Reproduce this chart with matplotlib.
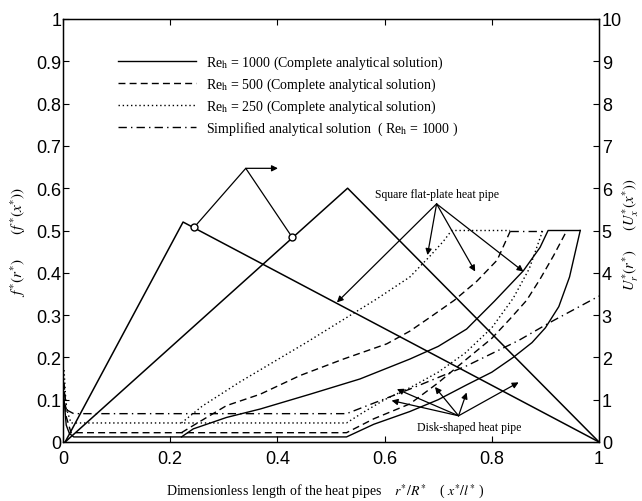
import numpy as np
import matplotlib.pyplot as plt

plt.rcParams['font.family'] = 'Liberation Sans'
plt.rcParams['mathtext.fontset'] = 'stix'

serif = 'Liberation Serif'

# f*(r*) on the left axis, U*/10 once the curves climb (right axis = x10)
# disk-shaped heat pipe branch (knee at 0.529)
disk_x_1000 = [0.002, 0.006, 0.012, 0.02, 0.529, 0.58, 0.647, 0.70, 0.753, 0.80, 0.84, 0.875, 0.90, 0.925, 0.945, 0.965]
disk_f_1000 = [0.10, 0.04, 0.02, 0.012, 0.012, 0.042, 0.072, 0.10, 0.135, 0.165, 0.20, 0.235, 0.27, 0.32, 0.39, 0.5]
disk_x_500 = [0.002, 0.006, 0.015, 0.529, 0.58, 0.647, 0.70, 0.753, 0.80, 0.834, 0.865, 0.89, 0.915, 0.94]
disk_f_500 = [0.14, 0.06, 0.022, 0.022, 0.055, 0.09, 0.14, 0.196, 0.245, 0.291, 0.335, 0.385, 0.44, 0.5]
disk_x_250 = [0.002, 0.006, 0.015, 0.529, 0.56, 0.60, 0.65, 0.70, 0.75, 0.80, 0.84, 0.87, 0.895]
disk_f_250 = [0.17, 0.08, 0.045, 0.045, 0.07, 0.10, 0.13, 0.165, 0.21, 0.27, 0.34, 0.41, 0.5]

# square flat-plate heat pipe branch (knee at 0.221)
sq_x_1000 = [0.221, 0.243, 0.305, 0.368, 0.461, 0.554, 0.647, 0.70, 0.753, 0.805, 0.859, 0.89, 0.905, 0.965]
sq_f_1000 = [0.012, 0.031, 0.058, 0.078, 0.113, 0.149, 0.196, 0.226, 0.267, 0.333, 0.405, 0.46, 0.5, 0.5]
sq_x_500 = [0.221, 0.243, 0.305, 0.368, 0.442, 0.523, 0.604, 0.647, 0.685, 0.73, 0.772, 0.81, 0.835]
sq_f_500 = [0.022, 0.039, 0.086, 0.113, 0.157, 0.196, 0.232, 0.262, 0.295, 0.335, 0.38, 0.43, 0.5]
sq_x_250 = [0.221, 0.26, 0.33, 0.455, 0.585, 0.647, 0.685, 0.71, 0.725, 0.834]
sq_f_250 = [0.045, 0.085, 0.142, 0.236, 0.338, 0.39, 0.44, 0.475, 0.5, 0.5]

# simplified solution, Re_h = 1000
simp_x = [0.002, 0.008, 0.02, 0.529, 0.647, 0.753, 0.85, 0.909, 1.0]
simp_f = [0.12, 0.075, 0.067, 0.067, 0.125, 0.18, 0.24, 0.283, 0.345]
simp_top_x = [0.834, 0.896]
simp_top_f = [0.5, 0.5]

# the two big triangles
tent1_x = [0.004, 0.224, 1.0]
tent1_y = [0.0, 0.52, 0.0]
tent2_x = [0.004, 0.531, 1.0]
tent2_y = [0.0, 0.60, 0.0]

circ_x = [0.245, 0.427]
circ_y = [0.508, 0.485]
ptr_x = [0.245, 0.341, 0.427]
ptr_y = [0.508, 0.647, 0.485]
ptr_arrow_end = (0.401, 0.647)

sq_apex = (0.697, 0.563)
sq_targets = [(0.511, 0.330), (0.680, 0.442), (0.769, 0.403), (0.859, 0.403)]
disk_apex = (0.738, 0.062)
disk_targets = [(0.623, 0.125), (0.613, 0.098), (0.694, 0.13), (0.753, 0.117), (0.85, 0.141)]

labels = [r'Re$_{\rm h}$ = 1000 (Complete analytical solution)',
          r'Re$_{\rm h}$ = 500 (Complete analytical solution)',
          r'Re$_{\rm h}$ = 250 (Complete analytical solution)',
          r'Simplified analytical solution  ( Re$_{\rm h}$ = 1000 )']

ls_solid = '-'
ls_dash = (0, (5, 3))
ls_dot = (0, (1, 2))
ls_dd = (0, (6, 3, 1, 3))
lw = 1.0

fig = plt.figure(figsize=(6.42, 5.02), dpi=100)
ax = fig.add_axes([63/642, 59/502, 536/642, 423/502])

h1, = ax.plot(disk_x_1000, disk_f_1000, color='k', lw=lw, ls=ls_solid)
ax.plot(sq_x_1000, sq_f_1000, color='k', lw=lw, ls=ls_solid)
h2, = ax.plot(disk_x_500, disk_f_500, color='k', lw=lw, ls=ls_dash)
ax.plot(sq_x_500, sq_f_500, color='k', lw=lw, ls=ls_dash)
h3, = ax.plot(disk_x_250, disk_f_250, color='k', lw=lw, ls=ls_dot)
ax.plot(sq_x_250, sq_f_250, color='k', lw=lw, ls=ls_dot)
h4, = ax.plot(simp_x, simp_f, color='k', lw=lw, ls=ls_dd)
ax.plot(simp_top_x, simp_top_f, color='k', lw=lw, ls=ls_dd)

ax.plot(tent1_x, tent1_y, color='k', lw=1.1)
ax.plot(tent2_x, tent2_y, color='k', lw=1.1)
ax.plot(ptr_x, ptr_y, color='k', lw=0.9)
ax.plot(circ_x, circ_y, 'o', mfc='white', mec='k', ms=5, mew=1.0)

arr = dict(arrowstyle='-|>', color='k', lw=0.9, mutation_scale=9, shrinkA=0, shrinkB=0)
ax.annotate('', xy=ptr_arrow_end, xytext=(ptr_x[1], ptr_y[1]), arrowprops=arr)
for t in sq_targets:
    ax.annotate('', xy=t, xytext=sq_apex, arrowprops=arr)
for t in disk_targets:
    ax.annotate('', xy=t, xytext=disk_apex, arrowprops=arr)

ax.text(sq_apex[0], sq_apex[1] + 0.008, 'Square flat-plate heat pipe', ha='center', va='bottom',
        fontsize=8.5, family=serif)
ax.text(disk_apex[0] + 0.02, disk_apex[1] - 0.012, 'Disk-shaped heat pipe', ha='center', va='top',
        fontsize=8.5, family=serif)

ax.legend([h1, h2, h3, h4], labels, loc='upper left', bbox_to_anchor=(0.103, 0.917),
          frameon=False, prop={'family': serif, 'size': 10}, handlelength=5.6,
          handletextpad=0.7, labelspacing=0.33, borderpad=0, borderaxespad=0)

ax.set_xlim(0, 1)
ax.set_ylim(0, 1)
ax.set_xticks(np.arange(0, 1.01, 0.2))
ax.set_xticklabels(['0', '0.2', '0.4', '0.6', '0.8', '1'])
ax.set_yticks(np.arange(0, 1.01, 0.1))
ax.set_yticklabels(['0', '0.1', '0.2', '0.3', '0.4', '0.5', '0.6', '0.7', '0.8', '0.9', '1'])
ax.tick_params(direction='in', top=True, length=4, labelsize=13, width=0.8)
ax.tick_params(axis='y', pad=1)
ax.tick_params(axis='x', pad=5.5)
for s in ax.spines.values():
    s.set_linewidth(1.0)

ax2 = ax.twinx()
ax2.set_ylim(0, 10)
ax2.set_yticks(range(11))
ax2.tick_params(direction='in', length=4, labelsize=13, pad=2, width=0.8)

fig.text(18/642, 0.518, r'$f^{*}(r^{*})$      $(f^{*}(x^{*}))$', rotation=90,
         ha='center', va='center', fontsize=11)
fig.text(631/642, 0.532, r'$U_r^{*}(r^{*})$     $(U_x^{*}(x^{*}))$', rotation=90,
         ha='center', va='center', fontsize=10.5)
fig.text(0.506, 0.02, r'Dimensionless length of the heat pipes    $r^{*}/R^{*}$    ( $x^{*}/l^{*}$ )',
         ha='center', va='center', fontsize=10, family=serif)

fig.savefig('out.png', dpi=100)
